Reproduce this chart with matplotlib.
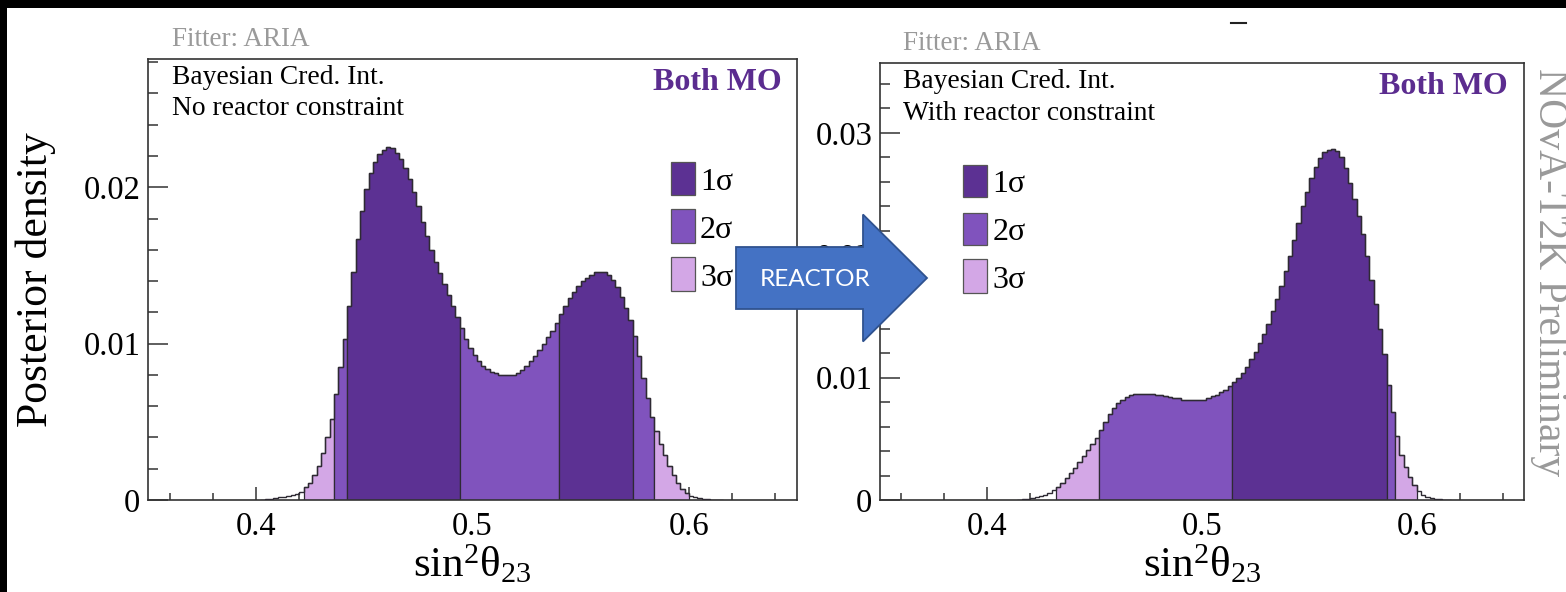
import numpy as np
import matplotlib
matplotlib.use("Agg")
import matplotlib.pyplot as plt
from matplotlib.patches import Rectangle, FancyArrow
from matplotlib.lines import Line2D
from matplotlib.ticker import FixedLocator, MultipleLocator, FuncFormatter

plt.rcParams['font.family'] = ['Liberation Serif', 'DejaVu Serif']
plt.rcParams['mathtext.fontset'] = 'custom'
plt.rcParams['mathtext.rm'] = 'Liberation Serif'
plt.rcParams['mathtext.it'] = 'Liberation Serif:italic'
plt.rcParams['mathtext.bf'] = 'Liberation Serif:bold'

W, H = 1566, 592
BIN_WIDTH = 0.002

# Posterior density of sin^2(theta23), no reactor constraint (bins of 0.002)
nr_first_edge = 0.402
nr_density = [
    0.00003, 0.00005, 0.00008, 0.00012, 0.00016, 0.00020, 0.00025, 0.00032, 0.00041, 0.00052,
    0.0008, 0.0011, 0.0016, 0.0022, 0.0030, 0.0040, 0.0052, 0.0068, 0.0085, 0.0103,
    0.0124, 0.0146, 0.0167, 0.0185, 0.0199, 0.0209, 0.0216, 0.0221, 0.0224, 0.0226,
    0.0225, 0.0222, 0.0218, 0.0212, 0.0205, 0.0197, 0.0188, 0.0178, 0.0169, 0.0160,
    0.0152, 0.0145, 0.0138, 0.0131, 0.0124, 0.0117, 0.0110, 0.0103, 0.0097, 0.0093,
    0.0089, 0.0086, 0.0084, 0.0082, 0.0081, 0.0080, 0.0080, 0.0080, 0.0080, 0.0081,
    0.0083, 0.0086, 0.0089, 0.0092, 0.0096, 0.0100, 0.0104, 0.0108, 0.0113, 0.0119,
    0.0124, 0.0129, 0.0133, 0.0137, 0.0140, 0.0142, 0.0144, 0.0146, 0.0146, 0.0146,
    0.0144, 0.0141, 0.0136, 0.0130, 0.0123, 0.0115, 0.0105, 0.0092, 0.0078, 0.0065,
    0.0053, 0.0044, 0.0036, 0.0029, 0.0022, 0.0016, 0.0011, 0.0007, 0.00045, 0.00028,
    0.00018, 0.00012, 0.00008, 0.00005, 0.00003, 0.00002, 0.00001,
]
nr_bounds = [0.422, 0.436, 0.442, 0.494, 0.540, 0.574, 0.584, 0.600]
nr_levels = [3, 2, 1, 2, 1, 2, 3]

# Posterior density of sin^2(theta23), with reactor constraint
wr_first_edge = 0.414
wr_density = [
    0.00003, 0.00006, 0.0001, 0.00015, 0.00022, 0.0003, 0.00042, 0.0006, 0.0008, 0.0011,
    0.0014, 0.0018, 0.0022, 0.0026, 0.0031, 0.0036, 0.0041, 0.0046, 0.0051, 0.0057,
    0.0064, 0.0070, 0.0075, 0.0079, 0.0082, 0.0084, 0.0086, 0.0087, 0.0087, 0.0087,
    0.0087, 0.0087, 0.0086, 0.0086, 0.0085, 0.0084, 0.0083, 0.0083, 0.0082, 0.0082,
    0.0082, 0.0082, 0.0082, 0.0082, 0.0083, 0.0085, 0.0086, 0.0088, 0.0090, 0.0093,
    0.0096, 0.0100, 0.0104, 0.0109, 0.0115, 0.0121, 0.0128, 0.0136, 0.0144, 0.0154,
    0.0164, 0.0175, 0.0187, 0.0199, 0.0212, 0.0226, 0.0240, 0.0252, 0.0263, 0.0272,
    0.0279, 0.0284, 0.0286, 0.0287, 0.0285, 0.0280, 0.0271, 0.0259, 0.0246, 0.0232,
    0.0217, 0.0199, 0.0180, 0.0160, 0.0140, 0.0119, 0.0094, 0.0072, 0.0052, 0.0037,
    0.0027, 0.0019, 0.0012, 0.0007, 0.0004, 0.00025, 0.00015, 0.00009, 0.00005, 0.00003,
    0.00001,
]
wr_bounds = [0.432, 0.452, 0.514, 0.586, 0.590, 0.600]
wr_levels = [3, 2, 1, 2, 3]

sigma_labels = ['1σ', '2σ', '3σ']
sigma_colors = {1: '#5c3193', 2: '#8053bd', 3: '#d3a7e6'}
EDGE = '#2e2a33'

x_range = (0.35, 0.65)
x_major = [0.4, 0.5, 0.6]
nr_ymax = 0.0282
wr_ymax = 0.0357
nr_yticks = [0.0, 0.01, 0.02]
wr_yticks = [0.0, 0.01, 0.02, 0.03]


def fx(px):
    return px / W


def fy(py):
    return 1 - py / H


fig = plt.figure(figsize=(W / 100, H / 100), dpi=100)
fig.patch.set_facecolor('white')

ax1 = fig.add_axes([fx(148), fy(500), (797 - 148) / W, (500 - 59) / H])
ax2 = fig.add_axes([fx(880), fy(500), (1524 - 880) / W, (500 - 63) / H])


def draw_panel(ax, first_edge, density, bounds, levels, ymax, yticks):
    vals = np.asarray(density, dtype=float)
    edges = first_edge + BIN_WIDTH * np.arange(len(vals) + 1)
    for lo, hi, lev in zip(bounds[:-1], bounds[1:], levels):
        i0 = int(round((lo - first_edge) / BIN_WIDTH))
        i1 = int(round((hi - first_edge) / BIN_WIDTH))
        ax.stairs(vals[i0:i1], edges[i0:i1 + 1], fill=True,
                  facecolor=sigma_colors[lev], edgecolor=EDGE,
                  linewidth=0.9, zorder=2)
    ax.stairs(vals, edges, color=EDGE, linewidth=1.0, zorder=3)

    ax.set_xlim(*x_range)
    ax.set_ylim(0, ymax)
    ax.xaxis.set_major_locator(FixedLocator(x_major))
    ax.xaxis.set_minor_locator(MultipleLocator(0.02))
    ax.yaxis.set_major_locator(FixedLocator(yticks))
    ax.yaxis.set_minor_locator(MultipleLocator(0.002))
    fmt = FuncFormatter(lambda v, p: '{:g}'.format(round(v, 4)))
    ax.xaxis.set_major_formatter(fmt)
    ax.yaxis.set_major_formatter(fmt)
    ax.tick_params(which='both', direction='in', top=False, right=False,
                   color='#333333', width=1.1, labelsize=23.5, labelcolor='black')
    ax.tick_params(axis='x', which='major', length=9.5, pad=8.5)
    ax.tick_params(axis='x', which='minor', length=4.8)
    ax.tick_params(axis='y', which='major', length=14.5, pad=5.5)
    ax.tick_params(axis='y', which='minor', length=7.5)
    for sp in ax.spines.values():
        sp.set_color('#333333')
        sp.set_linewidth(1.2)

    ax.set_xlabel(r'sin$^{2}$θ$_{23}$', fontsize=31)
    ax.xaxis.label.set_va('baseline')


draw_panel(ax1, nr_first_edge, nr_density, nr_bounds, nr_levels, nr_ymax, nr_yticks)
draw_panel(ax2, wr_first_edge, wr_density, wr_bounds, wr_levels, wr_ymax, wr_yticks)

ax1.xaxis.set_label_coords(0.5, (500 - 577) / 441)
ax2.xaxis.set_label_coords(0.5, (500 - 577) / 437)

ax1.set_ylabel('Posterior density', fontsize=31.5)
ax1.yaxis.label.set_va('center')
ax1.yaxis.set_label_coords((36 - 148) / 649, 0.5)

# panel annotations
panel_text = [
    (172, 45.5, 172, 83.5, 115.0, 782, 90, 'No reactor constraint'),
    (903, 49.5, 903, 88.0, 119.5, 1508, 94, 'With reactor constraint'),
]
for fxp, fyp, bx, by1, by2, mox, moy, constraint in panel_text:
    fig.text(fx(fxp), fy(fyp), 'Fitter: ARIA', fontsize=19.5, color='#9a9a9a',
             ha='left', va='baseline')
    fig.text(fx(bx), fy(by1), 'Bayesian Cred. Int.', fontsize=19.8,
             ha='left', va='baseline')
    fig.text(fx(bx), fy(by2), constraint, fontsize=19.8, ha='left', va='baseline')
    fig.text(fx(mox), fy(moy), 'Both MO', fontsize=23, fontweight='bold',
             color='#5b2c8f', ha='right', va='baseline')

# credible-interval keys
legend_rows = [
    (670.5, [(162, 195), (209, 243), (257, 291)]),
    (963.0, [(165, 197), (213, 245), (259, 293)]),
]
for bx, rows in legend_rows:
    for (top, bot), lab, lev in zip(rows, sigma_labels, [1, 2, 3]):
        fig.add_artist(Rectangle((fx(bx), fy(bot)), 24 / W, (bot - top) / H,
                                 transform=fig.transFigure,
                                 facecolor=sigma_colors[lev], edgecolor='#555555',
                                 linewidth=0.9, zorder=4))
        fig.text(fx(bx + 29.5), fy(bot - 5), lab, fontsize=23,
                 ha='left', va='baseline', zorder=4)

# arrow between the panels
arrow = FancyArrow(7.36, (H - 278) / 100, 1.91, 0.0, width=0.62,
                   head_width=1.27, head_length=0.64, length_includes_head=True,
                   transform=fig.dpi_scale_trans, facecolor='#4472c4',
                   edgecolor='#2f528f', linewidth=1.3, zorder=6)
fig.add_artist(arrow)
fig.text(fx(815), fy(279), 'REACTOR', family='Lato', fontsize=17.5,
         color='white', ha='center', va='center', zorder=7)

fig.text(fx(1549), fy(272), 'NOvA-T2K Preliminary', rotation=-90,
         fontsize=30, color='#999999', ha='center', va='center')

# dark border strips along the top and left edges
fig.add_artist(Rectangle((0, fy(8)), 1, 8 / H, transform=fig.transFigure,
                         facecolor='black', edgecolor='none', zorder=10))
fig.add_artist(Rectangle((0, 0), 7 / W, 1, transform=fig.transFigure,
                         facecolor='black', edgecolor='none', zorder=10))
fig.add_artist(Line2D([fx(1231), fx(1246)], [fy(23), fy(23)],
                      transform=fig.transFigure, color='#222222', linewidth=1.5))

fig.savefig('out.png', dpi=100, facecolor=fig.get_facecolor())
